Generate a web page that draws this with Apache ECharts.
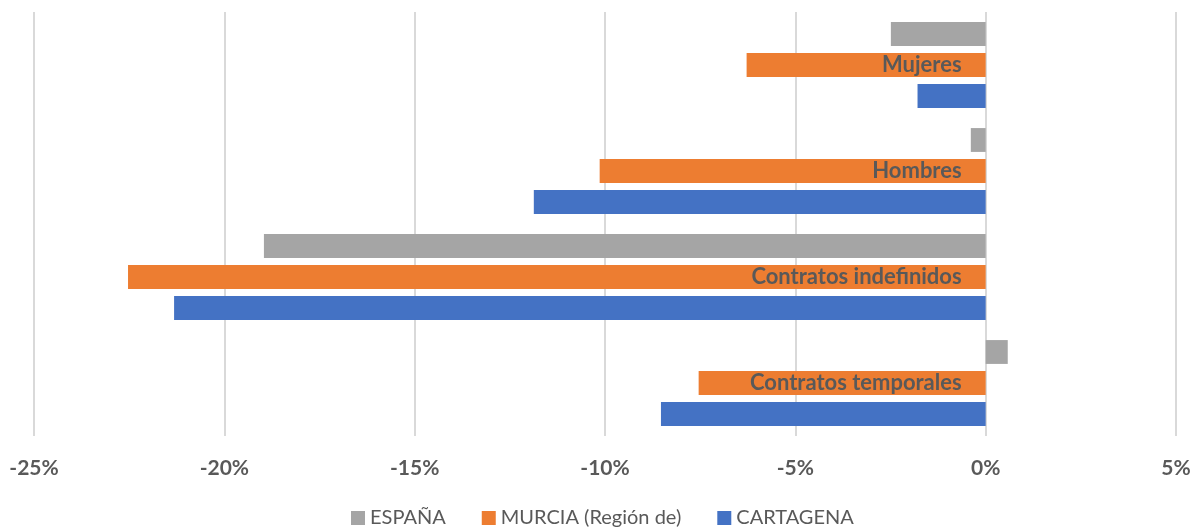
<!DOCTYPE html>
<html>
<head>
<meta charset="utf-8">
<script src="https://cdn.jsdelivr.net/npm/echarts@6/dist/echarts.min.js"></script>
<style>
html,body{margin:0;padding:0;background:#fff;}
#c{width:1197px;height:529px;}
</style>
</head>
<body>
<div id="c"></div>
<script>
const categories = ['Mujeres', 'Hombres', 'Contratos indefinidos', 'Contratos temporales'];
const seriesNames = ['ESPAÑA', 'MURCIA (Región de)', 'CARTAGENA'];
const espana = [-2.49, -0.39, -18.96, 0.58];
const murcia = [-6.28, -10.14, -22.53, -7.54];
const cartagena = [-1.79, -11.87, -21.32, -8.53];
const xTicks = { min: -25, max: 5, interval: 5 };

const font = 'Lato, "Liberation Sans", sans-serif';
const gridLeft = 34, gridRight = 21;
const chart = echarts.init(document.getElementById('c'), null, { renderer: 'canvas' });
// place the category axis at x = 0 of the value axis
const plotW = 1197 - gridLeft - gridRight;
const zeroOffset = -plotW * (0 - xTicks.min) / (xTicks.max - xTicks.min);
chart.setOption({
  animation: false,
  textStyle: { fontFamily: font },
  grid: { left: gridLeft, right: gridRight, top: 12, bottom: 93, containLabel: false, outerBoundsMode: 'none' },
  legend: {
    data: seriesNames,
    top: 503,
    left: 346,
    icon: 'rect',
    itemWidth: 14,
    itemHeight: 14,
    itemGap: 36,
    textStyle: { color: '#595959', fontSize: 20, fontFamily: font }
  },
  xAxis: {
    type: 'value',
    min: xTicks.min,
    max: xTicks.max,
    interval: xTicks.interval,
    axisLine: { show: false },
    axisTick: { show: false },
    splitLine: { show: true, lineStyle: { color: '#d9d9d9', width: 2 } },
    axisLabel: {
      formatter: '{value}%',
      color: '#595959',
      fontWeight: 'bold',
      fontSize: 21,
      margin: 22,
      fontFamily: font
    }
  },
  yAxis: {
    type: 'category',
    data: categories,
    inverse: true,
    position: 'left',
    offset: zeroOffset,
    z: 10,
    axisLine: { show: false, onZero: false },
    axisTick: { show: false },
    axisLabel: {
      color: '#595959',
      fontWeight: 'bold',
      fontSize: 22,
      margin: 24,
      fontFamily: font
    }
  },
  series: [
    { name: seriesNames[0], type: 'bar', data: espana, itemStyle: { color: '#a5a5a5' }, barGap: '30%', barCategoryGap: '19%' },
    { name: seriesNames[1], type: 'bar', data: murcia, itemStyle: { color: '#ed7d31' }, barGap: '30%', barCategoryGap: '19%' },
    { name: seriesNames[2], type: 'bar', data: cartagena, itemStyle: { color: '#4472c4' }, barGap: '30%', barCategoryGap: '19%' }
  ]
});
</script>
</body>
</html>
